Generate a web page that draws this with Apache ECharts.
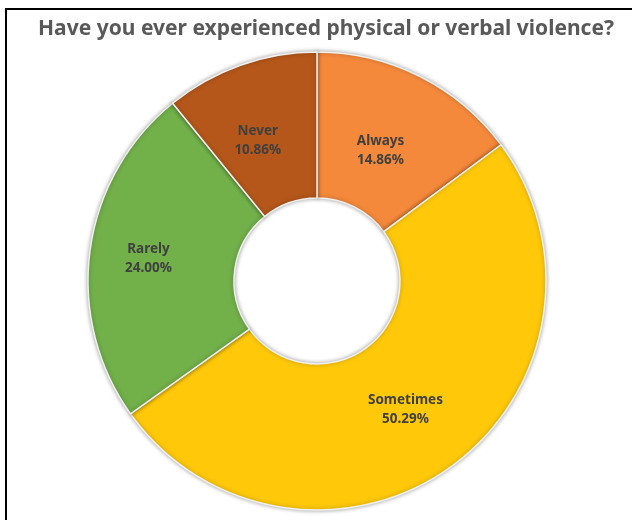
<!DOCTYPE html>
<html>
<head>
<meta charset="utf-8">
<script src="https://cdn.jsdelivr.net/npm/echarts@6/dist/echarts.min.js"></script>
<style>
html,body{margin:0;padding:0;background:#fff;}
#chart{width:632px;height:520px;}
</style>
</head>
<body>
<div id="chart"></div>
<script>
const titleText = "Have you ever experienced physical or verbal violence?";
const categories = ["Always", "Sometimes", "Rarely", "Never"];
const values = [14.86, 50.29, 24.00, 10.86];
const colors = ["#F5893B", "#FFC90A", "#72B04A", "#B5571B"];
// label nudges (styling only)
const labelNudges = [[-8, 12], [-5, 0], [-11, -1], [-6, 9]];

const chart = echarts.init(document.getElementById('chart'), null, {renderer: 'canvas'});
const data = categories.map((c, i) => ({
  name: c,
  value: values[i],
  itemStyle: {color: colors[i]},
  label: {offset: labelNudges[i]}
}));

chart.setOption({
  animation: false,
  backgroundColor: '#ffffff',
  title: {
    text: titleText,
    left: 321,
    textAlign: 'center',
    top: 14,
    textStyle: {fontFamily: 'Noto Sans', fontWeight: 'bold', fontSize: 21, color: '#595959'}
  },
  graphic: [{
    type: 'rect',
    shape: {x: 6, y: 9, width: 800, height: 700},
    style: {fill: 'none', stroke: '#000', lineWidth: 2},
    z: 100
  }],
  series: [{
    type: 'pie',
    center: [317, 281],
    radius: [83, 229],
    startAngle: 90,
    clockwise: true,
    data: data,
    itemStyle: {
      borderColor: '#f0f0f0',
      borderWidth: 1.5,
      shadowBlur: 4,
      shadowColor: 'rgba(0,0,0,0.35)'
    },
    label: {
      position: 'inside',
      formatter: p => p.name + '\n' + p.value.toFixed(2) + '%',
      fontFamily: 'Noto Sans',
      fontWeight: 'bold',
      fontSize: 13.5,
      lineHeight: 19,
      color: '#404040'
    },
    labelLine: {show: false},
    emphasis: {disabled: true}
  }]
});
</script>
</body>
</html>
